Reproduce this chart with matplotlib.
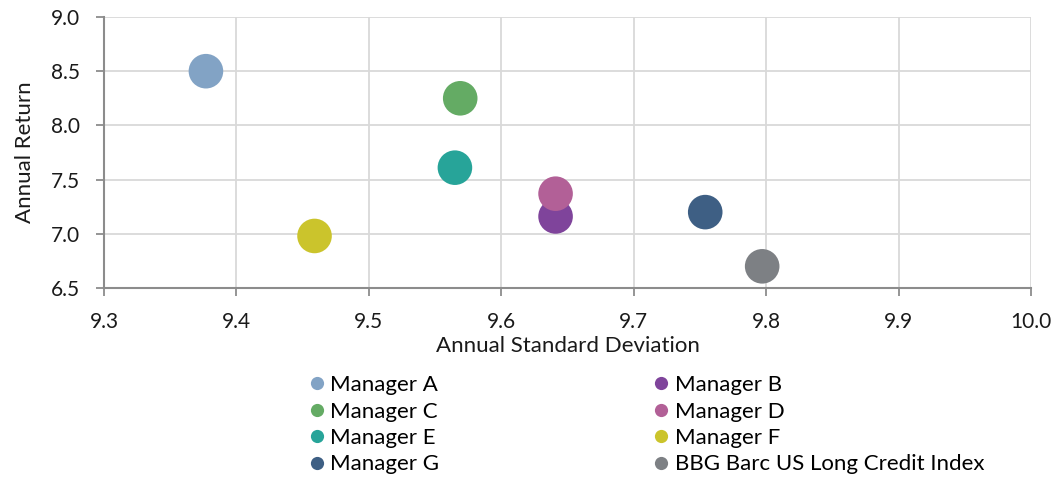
import matplotlib.pyplot as plt
from matplotlib.lines import Line2D

names = ["Manager A", "Manager B", "Manager C", "Manager D",
         "Manager E", "Manager F", "Manager G", "BBG Barc US Long Credit Index"]
std_dev = [9.377, 9.641, 9.569, 9.641, 9.565, 9.459, 9.754, 9.797]
returns = [8.50, 7.16, 8.25, 7.37, 7.61, 6.98, 7.20, 6.70]
colors = ["#82a3c5", "#7f449b", "#64ab64", "#b26097",
          "#27a499", "#cbc42c", "#3e5f84", "#7d8084"]

plt.rcParams['font.family'] = ['Lato', 'DejaVu Sans']

fig = plt.figure(figsize=(10.64, 4.8), dpi=100)
ax = fig.add_axes([0.0977, 0.4, 0.8713, 0.5646])

for x, y, c in zip(std_dev, returns, colors):
    ax.scatter(x, y, s=620, color=c, edgecolors='none', zorder=3)

ax.set_xlim(9.3, 10.0)
ax.set_ylim(6.5, 9.0)
ax.set_xticks([9.3 + 0.1 * i for i in range(8)])
ax.set_yticks([6.5, 7.0, 7.5, 8.0, 8.5, 9.0])
ax.xaxis.set_major_formatter(plt.FormatStrFormatter('%.1f'))
ax.yaxis.set_major_formatter(plt.FormatStrFormatter('%.1f'))
ax.grid(True, color='#d9d9d9', linewidth=1.3)
ax.set_axisbelow(True)
for s in ['top', 'right']:
    ax.spines[s].set_visible(False)
for s in ['left', 'bottom']:
    ax.spines[s].set_color('#8c8c8c')
    ax.spines[s].set_linewidth(1.5)
ax.tick_params(colors='#8c8c8c', labelcolor='#1a1a1a', labelsize=15,
               length=6, width=1.3)
ax.tick_params(axis='x', pad=11)
ax.tick_params(axis='y', pad=11)
ax.set_xlabel("Annual Standard Deviation", fontsize=16, color='#1a1a1a', labelpad=3)
ax.set_ylabel("Annual Return", fontsize=16, color='#1a1a1a', labelpad=12)

# legend filled row by row: reorder for matplotlib's column-major layout
order = [0, 2, 4, 6, 1, 3, 5, 7]
handles = [Line2D([], [], marker='o', linestyle='none', markersize=9.5,
                  markerfacecolor=colors[i], markeredgecolor='none') for i in order]
labels = [names[i] for i in order]
fig.legend(handles, labels, ncol=2, loc='upper left', bbox_to_anchor=(0.279, 0.237),
           frameon=False, fontsize=16, handletextpad=0.1, columnspacing=9.5,
           labelspacing=0.29, handlelength=1.0, borderaxespad=0)

fig.savefig("out.png", dpi=100)
